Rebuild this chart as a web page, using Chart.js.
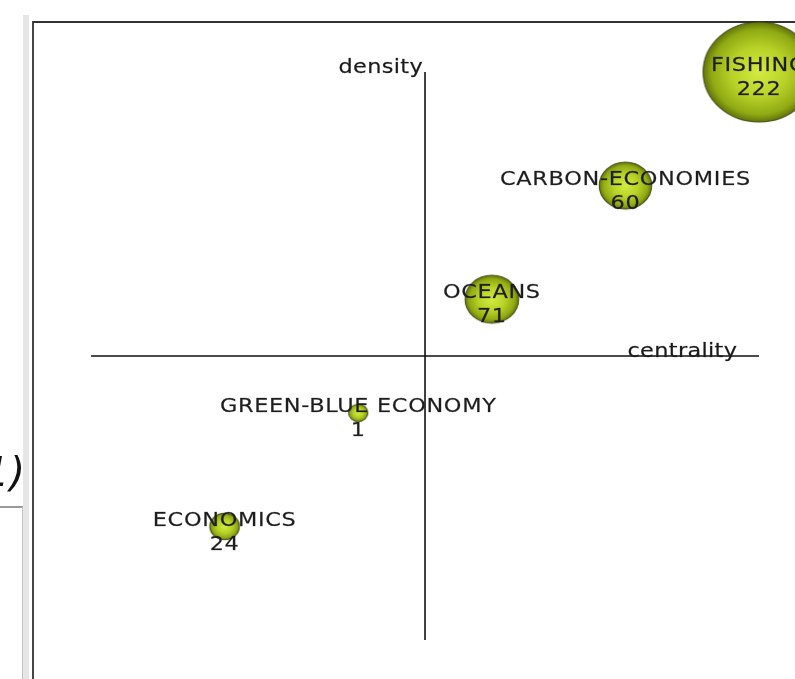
<!DOCTYPE html>
<html>
<head>
<meta charset="utf-8">
<title>Strategic diagram</title>
<script src="https://cdn.jsdelivr.net/npm/chart.js@4.4.1/dist/chart.umd.min.js"></script>
<style>
    html, body { margin: 0; padding: 0; background: #fff; }
    #diagram { display: block; }
</style>
</head>
<body>
<canvas id="diagram" width="795" height="679"></canvas>
<script>
// Temas del diagrama estratégico (centralidad / densidad por rango)
const themes       = ['FISHING', 'CARBON-ECONOMIES', 'OCEANS', 'GREEN-BLUE ECONOMY', 'ECONOMICS'];
const centrality   = [1.0, 0.6, 0.2, -0.2, -0.6];
const density      = [1.0, 0.6, 0.2, -0.2, -0.6];
const documents    = [222, 60, 71, 1, 24];
const relativeSize = [100, 22, 23, 3, 7];   // tamaño relativo de la esfera

const STRETCH = 1.12;          // la captura está algo estirada en horizontal
const MAX_R   = 50;
const textCol = '#1e1e1e';

function sphereRadius(v) {
    return MAX_R * Math.sqrt(v / Math.max(...relativeSize));
}

// esfera con degradado, dibujada como pointStyle
function makeSphere(r) {
    const rx = r * STRETCH;
    const c = document.createElement('canvas');
    c.width  = Math.ceil(rx * 2) + 4;
    c.height = Math.ceil(r * 2) + 4;
    const g = c.getContext('2d');
    g.translate(c.width / 2, c.height / 2);
    g.scale(STRETCH, 1);
    const grad = g.createRadialGradient(0, 0, 0, 0, 0, r);
    grad.addColorStop(0, '#d4ec42');
    grad.addColorStop(0.5, '#b8d228');
    grad.addColorStop(0.85, '#90aa14');
    grad.addColorStop(1, '#62740a');
    g.beginPath();
    g.arc(0, 0, r, 0, Math.PI * 2);
    g.fillStyle = grad;
    g.fill();
    g.lineWidth = 0.9;
    g.strokeStyle = 'rgba(55, 62, 10, 0.85)';
    g.stroke();
    return c;
}

const spheres = relativeSize.map((v) => makeSphere(sphereRadius(v)));

function stretchedText(ctx, text, x, y, align) {
    ctx.save();
    ctx.translate(x, y);
    ctx.scale(STRETCH, 1);
    ctx.textAlign = align;
    ctx.fillText(text, 0, 0);
    ctx.strokeText(text, 0, 0);
    ctx.restore();
}

const framePlugin = {
    id: 'frame',
    beforeDraw(chart) {
        const { ctx } = chart;
        ctx.save();
        // franja gris de la ventana
        ctx.fillStyle = '#e6e6e6';
        ctx.fillRect(23, 15, 6, 679);
        // trozo del texto y caja de la izquierda
        ctx.fillStyle = '#111';
        ctx.font = 'italic 40px "DejaVu Sans"';
        ctx.textAlign = 'right';
        ctx.textBaseline = 'alphabetic';
        ctx.fillText('1)', 25, 486);
        ctx.strokeStyle = '#9a9a9a';
        ctx.lineWidth = 2;
        ctx.beginPath();
        ctx.moveTo(0, 507); ctx.lineTo(23, 507);
        ctx.stroke();
        ctx.strokeStyle = '#c4c4c4';
        ctx.lineWidth = 1;
        ctx.beginPath();
        ctx.moveTo(22.5, 507); ctx.lineTo(22.5, 679);
        ctx.stroke();
        // marco del diagrama
        ctx.strokeStyle = '#333';
        ctx.lineWidth = 1.8;
        ctx.beginPath();
        ctx.moveTo(33, 679); ctx.lineTo(33, 22); ctx.lineTo(795, 22);
        ctx.stroke();
        ctx.restore();
    },
    beforeDatasetsDraw(chart) {
        const { ctx, scales: { x, y } } = chart;
        const x0 = x.getPixelForValue(0), y0 = y.getPixelForValue(0);
        ctx.save();
        ctx.strokeStyle = '#111';
        ctx.lineWidth = 1.6;
        ctx.beginPath();
        ctx.moveTo(x.getPixelForValue(-1), y0);
        ctx.lineTo(x.getPixelForValue(1), y0);
        ctx.moveTo(x0, y.getPixelForValue(1));
        ctx.lineTo(x0, y.getPixelForValue(-1));
        ctx.stroke();
        ctx.fillStyle = '#1a1a1a';
        ctx.strokeStyle = 'rgba(26, 26, 26, 0.5)';
        ctx.lineWidth = 0.4;
        ctx.font = '20px "DejaVu Sans"';
        ctx.letterSpacing = '0.3px';
        ctx.textBaseline = 'alphabetic';
        stretchedText(ctx, 'density', x0 - 2, y.getPixelForValue(1) + 1, 'right');
        stretchedText(ctx, 'centrality', x.getPixelForValue(0.935), y0 + 1, 'right');
        ctx.restore();
    },
    afterDatasetsDraw(chart) {
        const { ctx } = chart;
        const meta = chart.getDatasetMeta(0);
        ctx.save();
        ctx.fillStyle = textCol;
        ctx.strokeStyle = 'rgba(30, 30, 30, 0.5)';
        ctx.lineWidth = 0.4;
        ctx.font = '20px "DejaVu Sans"';
        ctx.letterSpacing = '0.6px';
        ctx.textBaseline = 'middle';
        meta.data.forEach((pt, i) => {
            stretchedText(ctx, themes[i], pt.x, pt.y - 6, 'center');
            stretchedText(ctx, String(documents[i]), pt.x, pt.y + 18, 'center');
        });
        ctx.restore();
    },
};

new Chart(document.getElementById('diagram'), {
    type: 'bubble',
    data: {
        datasets: [{
            data: themes.map((t, i) => ({
                x: centrality[i],
                y: density[i],
                r: sphereRadius(relativeSize[i]),
            })),
            pointStyle: (c) => spheres[c.dataIndex],
            backgroundColor: '#b8d228',
            borderWidth: 0,
            clip: false,
        }],
    },
    options: {
        responsive: false,
        animation: false,
        events: [],
        layout: { autoPadding: false, padding: { left: 33, top: 22, right: 0, bottom: 0 } },
        plugins: {
            legend: { display: false },
            tooltip: { enabled: false },
        },
        scales: {
            x: { type: 'linear', min: -1.1737, max: 1.1077, display: false },
            y: { type: 'linear', min: -1.1373, max: 1.1761, display: false },
        },
    },
    plugins: [framePlugin],
});
</script>
</body>
</html>
